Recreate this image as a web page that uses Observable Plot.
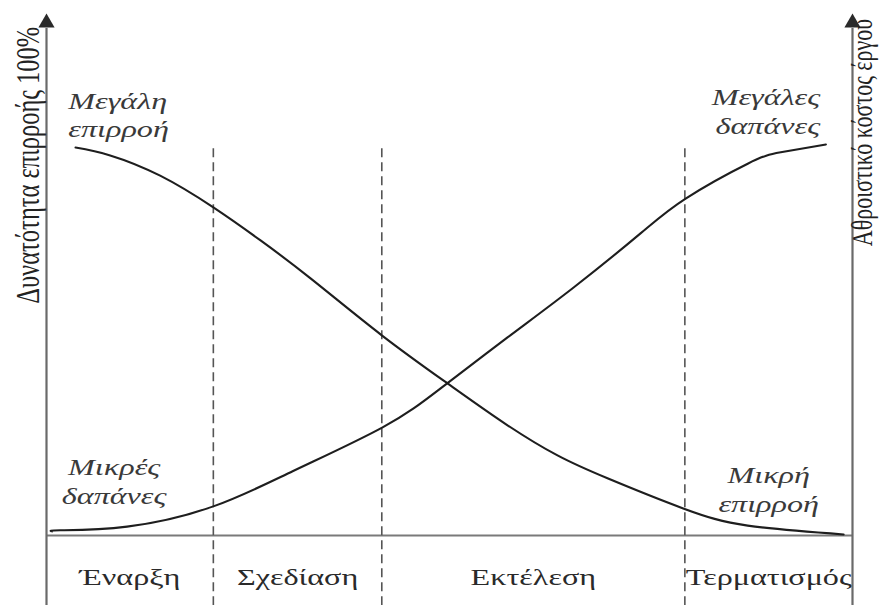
<!DOCTYPE html>
<html>
<head>
<meta charset="utf-8">
<script src="https://cdn.jsdelivr.net/npm/d3@7"></script>
<script src="https://cdn.jsdelivr.net/npm/@observablehq/plot@0.6"></script>
<style>
  html, body { margin: 0; padding: 0; background: #fff; }
  #chart { width: 880px; height: 605px; }
  #chart svg text, #chart svg tspan { font-family: "Liberation Serif", "DejaVu Serif", serif !important; }
</style>
</head>
<body>
<div id="chart"></div>
<script>
// Progress through the project life cycle (0–100)
const influenceX = [3.6, 7.9, 14.1, 20.7, 26.6, 32.8, 41.6, 49.8, 57.2, 63.4, 69.6, 79.0, 87.0, 98.9];
const influenceY = [74.6, 73.1, 69.2, 63.1, 56.7, 49.4, 38.5, 29.2, 21.2, 15.4, 11.0, 5.2, 1.9, 0.2];

const costX = [0.7, 1.7, 10.0, 20.7, 30.6, 41.7, 48.9, 57.2, 65.4, 73.7, 79.3, 87.0, 91.1, 96.7];
const costY = [0.8, 1.0, 1.7, 5.6, 12.4, 20.8, 28.3, 38.1, 47.7, 58.1, 64.8, 71.5, 73.7, 75.2];

// Phase boundaries and names
const phaseBounds = [0, 20.7, 41.6, 79.2, 100];
const phaseNames = ["Έναρξη", "Σχεδίαση", "Εκτέλεση", "Τερματισμός"];

// Curve annotations
const noteTexts = ["Μεγάλη\nεπιρροή", "Μεγάλες\nδαπάνες", "Μικρές\nδαπάνες", "Μικρή\nεπιρροή"];
const noteX = [2.7, 96.0, 8.4, 89.6];
const noteY = [81.1, 81.7, 10.6, 9.1];
const noteAnchor = ["start", "end", "middle", "middle"];

const leftTitle = "Δυνατότητα επιρροής 100%";
const rightTitle = "Αθροιστικό κόστος έργου";

const influence = influenceX.map((x, i) => ({x, y: influenceY[i]}));
const cost = costX.map((x, i) => ({x, y: costY[i]}));
const dividers = phaseBounds.slice(1, -1);
const phases = phaseNames.map((name, i) => ({name, x: (phaseBounds[i] + phaseBounds[i + 1]) / 2}));
const notes = noteTexts.map((t, i) => ({t, x: noteX[i], y: noteY[i], a: noteAnchor[i]}));

const serif = "Liberation Serif";
const yBottom = -13.5;
const stretch = 1.34; // the reference's lettering is horizontally widened

const chart = Plot.plot({
  width: 880,
  height: 605,
  marginLeft: 46,
  marginRight: 28,
  marginTop: 15,
  marginBottom: 70,
  x: {domain: [0, 100], axis: null},
  y: {domain: [0, 100], axis: null},
  style: {background: "#fff", fontFamily: serif},
  marks: [
    // axes
    Plot.ruleY([0], {x1: 0, x2: 100, stroke: "#7a7a7a", strokeWidth: 2.2}),
    Plot.ruleX([0, 100], {y1: yBottom, y2: 97.5, stroke: "#6a6a6a", strokeWidth: 2.2}),
    Plot.dot([0, 100], {x: d => d, y: 98.6, symbol: "triangle", r: 6, fill: "#2a2a2a", stroke: "none"}),
    // phase dividers
    Plot.ruleX(dividers, {y1: yBottom, y2: 75.2, stroke: "#555", strokeWidth: 1.6, strokeDasharray: "9,5"}),
    // curves
    Plot.line(influence, {x: "x", y: "y", curve: "natural", stroke: "#1e1e1e", strokeWidth: 2.1}),
    Plot.line(cost, {x: "x", y: "y", curve: "natural", stroke: "#1e1e1e", strokeWidth: 2.1}),
    // phase labels
    Plot.text(phases, {x: "x", y: -8.1, text: "name", fontSize: 24, fill: "#2a2a2a"}),
    // annotations
    ...["start", "end", "middle"].map(a =>
      Plot.text(notes.filter(n => n.a === a), {x: "x", y: "y", text: "t", textAnchor: a, lineAnchor: "middle",
        lineHeight: 1.2, fontSize: 24, fontStyle: "italic", fill: "#3a3a3a"})),
    // axis titles
    Plot.text([leftTitle], {x: -2.2, y: 71.2, text: d => d, rotate: -90, fontSize: 24.5, fill: "#222", lineAnchor: "middle"}),
    Plot.text([rightTitle], {x: 101.3, y: 77.5, text: d => d, rotate: -90, fontSize: 22, fill: "#222", lineAnchor: "middle"})
  ]
});

// widen lettering horizontally (screen x), as in the reference
d3.select(chart).selectAll("g[aria-label='text'] text").each(function() {
  const t = this.getAttribute("transform");
  if (t == null) return;
  if (t.includes("rotate")) {
    this.setAttribute("transform", t.replace("rotate", `scale(${stretch},1) rotate`));
  } else {
    this.setAttribute("transform", `${t} scale(${stretch},1)`);
  }
});

document.getElementById("chart").appendChild(chart);
</script>
</body>
</html>
